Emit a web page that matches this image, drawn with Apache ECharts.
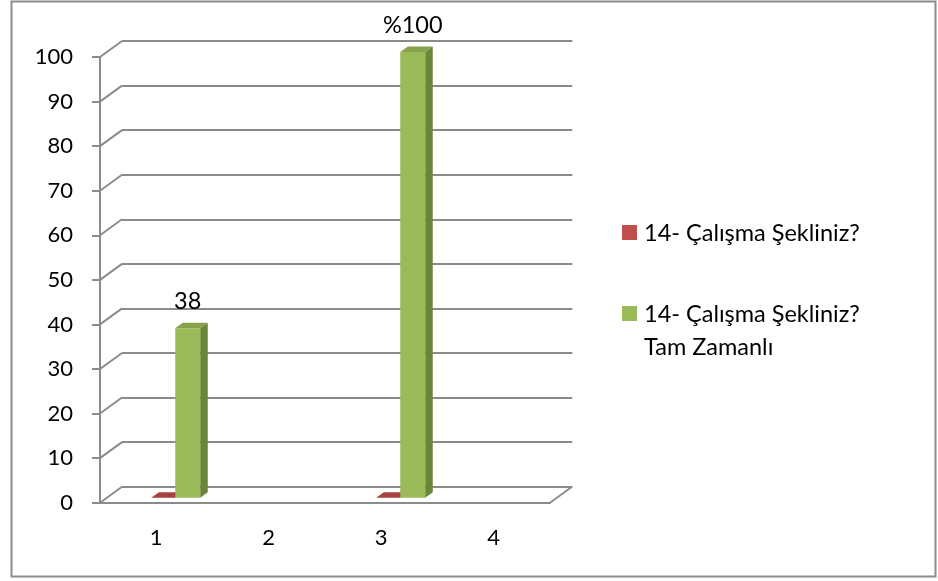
<!DOCTYPE html>
<html>
<head>
<meta charset="utf-8">
<script src="https://cdn.jsdelivr.net/npm/echarts@6/dist/echarts.min.js"></script>
<style>
  html, body { margin: 0; padding: 0; background: #ffffff; }
  #chart { width: 938px; height: 581px; }
</style>
</head>
<body>
<div id="chart"></div>
<script>
// ---- data ----
const categories = ['1', '2', '3', '4'];
const yTicks = [0, 10, 20, 30, 40, 50, 60, 70, 80, 90, 100];
const seriesNames = ['14- Çalışma Şekliniz?', '14- Çalışma Şekliniz? Tam Zamanlı'];
const legendLines = [['14- Çalışma Şekliniz?'], ['14- Çalışma Şekliniz?', 'Tam Zamanlı']];
const redValues = [0, null, 0, null];
const greenValues = [38, null, 100, null];
const greenLabels = ['38', '', '%100', ''];

// ---- look ----
const FONT = 'Lato';
const AXIS_FONT_SIZE = 22;
const LEGEND_FONT_SIZE = 23.5;
const GRID_COLOR = '#8b8b8b';
const WALL_DEPTH = [22, -16];   // offset of back wall from the front plane
const BAR_DEPTH = [7.5, -5.5];  // thickness of each 3D bar
const BAR_LIFT = [0, -5];       // bars sit a little behind the front plane
const RED = { front: '#c0504d', side: '#8c3836', top: '#a8423f' };
const GREEN = { front: '#9bbb59', side: '#6b8638', top: '#86a34c' };

const toItems = (vals) => vals.map((v, i) => (v == null ? null : [i, v])).filter(Boolean);

function barRenderer(slot, colors, labels) {
  return function (params, api) {
    const i = api.value(0);
    const v = api.value(1);
    const top = api.coord([i, v]);
    const base = api.coord([i, 0]);
    const x0 = top[0] + slot[0] + BAR_LIFT[0];
    const x1 = top[0] + slot[1] + BAR_LIFT[0];
    const yt = top[1] + BAR_LIFT[1];
    const yb = base[1] + BAR_LIFT[1];
    const dx = BAR_DEPTH[0], dy = BAR_DEPTH[1];
    const children = [];
    if (yb - yt > 0.5) {
      children.push({ type: 'rect', shape: { x: x0, y: yt, width: x1 - x0, height: yb - yt }, style: { fill: colors.front } });
      children.push({ type: 'polygon', shape: { points: [[x1, yb], [x1, yt], [x1 + dx, yt + dy], [x1 + dx, yb + dy]] }, style: { fill: colors.side } });
    }
    children.push({ type: 'polygon', shape: { points: [[x0, yt], [x1, yt], [x1 + dx, yt + dy], [x0 + dx, yt + dy]] }, style: { fill: colors.top } });
    const txt = labels ? labels[i] : '';
    if (txt) {
      children.push({
        type: 'text',
        style: {
          text: txt, x: (x0 + x1) / 2, y: yt - 27, align: 'center', verticalAlign: 'middle',
          fill: '#000', font: LEGEND_FONT_SIZE + 'px ' + FONT
        }
      });
    }
    return { type: 'group', children: children };
  };
}

const chart = echarts.init(document.getElementById('chart'), null, { renderer: 'canvas' });

const legendGraphics = [];
const legendColors = [RED.front, GREEN.front];
const legendTops = [225, 306];
legendLines.forEach((lines, k) => {
  legendGraphics.push({ type: 'rect', left: 622, top: legendTops[k], shape: { width: 15, height: 15 }, style: { fill: legendColors[k] } });
  lines.forEach((line, j) => {
    legendGraphics.push({
      type: 'text', x: 644, y: legendTops[k] + 8 + j * 33,
      style: { text: line, fill: '#000', font: LEGEND_FONT_SIZE + 'px ' + FONT, verticalAlign: 'middle' }
    });
  });
});

chart.setOption({
  animation: false,
  backgroundColor: '#ffffff',
  textStyle: { fontFamily: FONT },
  grid: [
    { left: 100, top: 57, width: 450, height: 445.7 },
    { left: 122, top: 41, width: 450.3, height: 445.7 }
  ],
  xAxis: [
    {
      type: 'category', gridIndex: 0, data: categories,
      axisLine: { lineStyle: { color: GRID_COLOR, width: 2 } },
      axisTick: { length: 9, lineStyle: { color: GRID_COLOR, width: 2 } },
      axisLabel: { color: '#000', fontSize: AXIS_FONT_SIZE, fontFamily: FONT, margin: 24 }
    },
    { type: 'category', gridIndex: 1, data: categories, show: false }
  ],
  yAxis: [
    {
      type: 'value', gridIndex: 0, min: 0, max: 100, interval: 10,
      axisLine: { show: true, lineStyle: { color: GRID_COLOR, width: 2 } },
      axisTick: { show: true, length: 8, lineStyle: { color: GRID_COLOR, width: 2 } },
      axisLabel: { color: '#000', fontSize: AXIS_FONT_SIZE, fontFamily: FONT, margin: 27 },
      splitLine: { show: false }
    },
    {
      type: 'value', gridIndex: 1, min: 0, max: 100, interval: 10,
      axisLine: { show: false }, axisTick: { show: false }, axisLabel: { show: false },
      splitLine: { show: true, lineStyle: { color: GRID_COLOR, width: 2 } }
    }
  ],
  series: [
    {
      // diagonal edges joining the front axis to the back wall
      type: 'custom', xAxisIndex: 0, yAxisIndex: 0, silent: true, z: 1,
      data: yTicks.map(v => [0, v, 0]).concat([[0, 0, 1]]),
      renderItem: function (params, api) {
        const cs = params.coordSys;
        const y = api.coord([0, api.value(1)])[1];
        const x = cs.x + api.value(2) * cs.width;
        return {
          type: 'line',
          shape: { x1: x, y1: y, x2: x + WALL_DEPTH[0], y2: y + WALL_DEPTH[1] },
          style: { stroke: GRID_COLOR, lineWidth: 2 }
        };
      }
    },
    {
      name: seriesNames[0], type: 'custom', xAxisIndex: 0, yAxisIndex: 0, z: 3,
      data: toItems(redValues),
      renderItem: barRenderer([-5, 19], RED, null)
    },
    {
      name: seriesNames[1], type: 'custom', xAxisIndex: 0, yAxisIndex: 0, z: 3,
      data: toItems(greenValues),
      renderItem: barRenderer([19, 44], GREEN, greenLabels)
    }
  ],
  graphic: [
    { type: 'rect', shape: { x: 11.5, y: 1.5, width: 924, height: 575 }, style: { fill: 'none', stroke: '#8c8c8c', lineWidth: 2 }, silent: true }
  ].concat(legendGraphics)
});
</script>
</body>
</html>
